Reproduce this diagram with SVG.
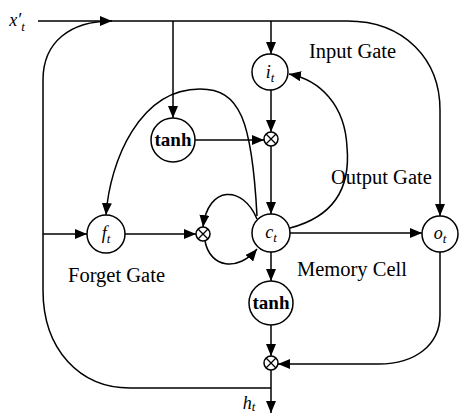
<svg xmlns="http://www.w3.org/2000/svg" width="459" height="414" viewBox="0 0 459 414">
<style>
.n{fill:#fff;stroke:#000;stroke-width:1.5}
.x{fill:none;stroke:#000;stroke-width:1.3}
.c{fill:none;stroke:#000;stroke-width:1.5}
.lab{font-family:"Liberation Serif","Times New Roman",serif;font-size:20.5px;fill:#000}
.v{font-family:"Liberation Serif","Times New Roman",serif;font-style:italic;font-size:18px;fill:#000;text-anchor:middle}
.s{font-size:13px}
.th{font-family:"Liberation Serif","Times New Roman",serif;font-weight:bold;font-size:19px;fill:#000;text-anchor:middle}
</style>
<defs>
<marker id="ah" markerUnits="userSpaceOnUse" markerWidth="12" markerHeight="10" refX="12" refY="5" orient="auto">
<path d="M0,0 L12,5 L0,10 z" fill="#000"/>
</marker>
</defs>
<rect width="459" height="414" fill="#fff"/>
<g id="connectors" class="c" marker-end="url(#ah)">
<path d="M38,21 L347,21 C405,21 440,60 440,110 L440,216"/>
<path d="M271,388 L130,388 C80,388 43,350 43,290 L43,80 C43,42 70,21 112,21"/>
<path d="M173,21 L173,118"/>
<path d="M271,21 L271,54"/>
<path d="M271,90 L271,132"/>
<path d="M195,140 L264,140"/>
<path d="M271,146 L271,214"/>
<path d="M43,234 L87,234"/>
<path d="M125,234 L196,234"/>
<path d="M290,233 L422,233"/>
<path d="M271,252 L271,281"/>
<path d="M271,325 L271,356"/>
<path d="M440,252 L440,315 C440,345 415,364 379,364 L278,364"/>
<path d="M271,370 L271,413"/>
<path d="M257,216 C252,120 240,89 200,89 C140,89 110,160 106,215"/>
<path d="M257,219 C243,185 208,185 203,227"/>
<path d="M205,241 C210,268 238,272 257,249"/>
<path d="M290,228 C340,215 350,180 347,147 C345,105 320,80 289,74"/>
</g>
<g id="x_input"><text class="v" x="17" y="26">x′<tspan dy="5" class="s">t</tspan></text></g>
<g id="input_gate"><circle class="n" cx="270" cy="72" r="18"/><text class="v" x="270" y="78">i<tspan dy="4" class="s">t</tspan></text></g>
<g id="tanh_in"><circle class="n" cx="173" cy="140" r="22"/><text class="th" x="173" y="146">tanh</text></g>
<g id="mul_in"><circle class="n" cx="271" cy="139" r="7"/><path class="x" d="M266,134 L276,144 M276,134 L266,144"/></g>
<g id="forget_gate"><circle class="n" cx="106" cy="234" r="19"/><text class="v" x="106" y="239">f<tspan dy="4" class="s">t</tspan></text></g>
<g id="mul_forget"><circle class="n" cx="203" cy="234" r="7"/><path class="x" d="M198,229 L208,239 M208,229 L198,239"/></g>
<g id="memory_cell"><circle class="n" cx="271" cy="233" r="19"/><text class="v" x="271" y="238">c<tspan dy="4" class="s">t</tspan></text></g>
<g id="output_gate"><circle class="n" cx="440" cy="234" r="18"/><text class="v" x="440" y="239">o<tspan dy="4" class="s">t</tspan></text></g>
<g id="tanh_out"><circle class="n" cx="271" cy="303" r="22"/><text class="th" x="271" y="309">tanh</text></g>
<g id="mul_out"><circle class="n" cx="271" cy="363" r="7"/><path class="x" d="M266,358 L276,368 M276,358 L266,368"/></g>
<g id="h_output"><text class="v" x="249" y="409">h<tspan dy="2" class="s">t</tspan></text></g>
<g id="labels">
<text class="lab" x="309" y="58">Input Gate</text>
<text class="lab" x="331" y="184">Output Gate</text>
<text class="lab" x="68" y="282">Forget Gate</text>
<text class="lab" x="297" y="276">Memory Cell</text>
</g>
</svg>
